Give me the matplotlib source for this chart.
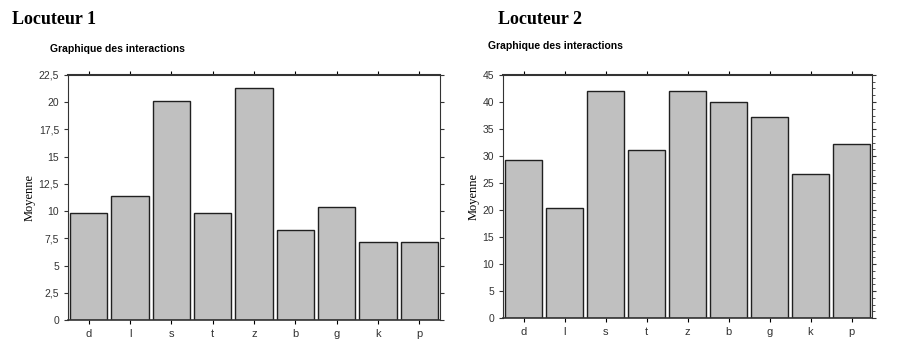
import matplotlib.pyplot as plt
from matplotlib.ticker import FuncFormatter, MultipleLocator

# data
sons = ['d', 'l', 's', 't', 'z', 'b', 'g', 'k', 'p']
loc1 = [9.8, 11.4, 20.1, 9.8, 21.3, 8.3, 10.4, 7.2, 7.2]
loc2 = [29.3, 20.4, 42.0, 31.2, 42.0, 40.0, 37.2, 26.6, 32.3]

plt.rcParams['font.family'] = ['Liberation Sans', 'DejaVu Sans']

fig = plt.figure(figsize=(9, 3.44), dpi=100)

virgule = FuncFormatter(lambda v, p: ('%g' % v).replace('.', ','))


def graphe(ax, vals, ymax, step, minor=None):
    x = range(len(vals))
    ax.bar(x, vals, width=0.9, color='#c0c0c0', edgecolor='#202020', linewidth=1.0)
    ax.set_xlim(-0.5, len(vals) - 0.5)
    ax.set_ylim(0, ymax)
    ax.set_xticks(list(x))
    ax.set_xticklabels(sons, fontsize=8, color='#333333')
    ax.yaxis.set_major_locator(MultipleLocator(step))
    ax.yaxis.set_major_formatter(virgule)
    if minor:
        ax.yaxis.set_minor_locator(MultipleLocator(minor))
    ax.tick_params(axis='y', labelsize=7.5, colors='#333333', length=3, right=True, which='both')
    ax.tick_params(axis='y', which='minor', length=2, left=False)
    ax.tick_params(axis='x', length=3, top=True, direction='out')
    ax.set_ylabel('Moyenne', family='Liberation Serif', fontsize=9, labelpad=2)
    for s in ax.spines.values():
        s.set_linewidth(0.8)
        s.set_color('#333333')
    ax.spines['top'].set_linewidth(1.5)
    ax.spines['bottom'].set_linewidth(1.2)


ax1 = fig.add_axes([68 / 900, 1 - 320 / 344, 372 / 900, 245 / 344])
graphe(ax1, loc1, 22.5, 2.5)
ax2 = fig.add_axes([503 / 900, 1 - 318 / 344, 369 / 900, 243 / 344])
graphe(ax2, loc2, 45, 5, minor=1.25)

fig.text(12 / 900, 1 - 20 / 344, 'Locuteur 1', family='Liberation Serif', fontsize=13,
         fontweight='bold', va='center', ha='left')
fig.text(498 / 900, 1 - 20 / 344, 'Locuteur 2', family='Liberation Serif', fontsize=13,
         fontweight='bold', va='center', ha='left')
fig.text(50 / 900, 1 - 49 / 344, 'Graphique des interactions', fontsize=7.5,
         fontweight='bold', va='center', ha='left')
fig.text(488 / 900, 1 - 46 / 344, 'Graphique des interactions', fontsize=7.5,
         fontweight='bold', va='center', ha='left')

fig.savefig('out.png', dpi=100)
